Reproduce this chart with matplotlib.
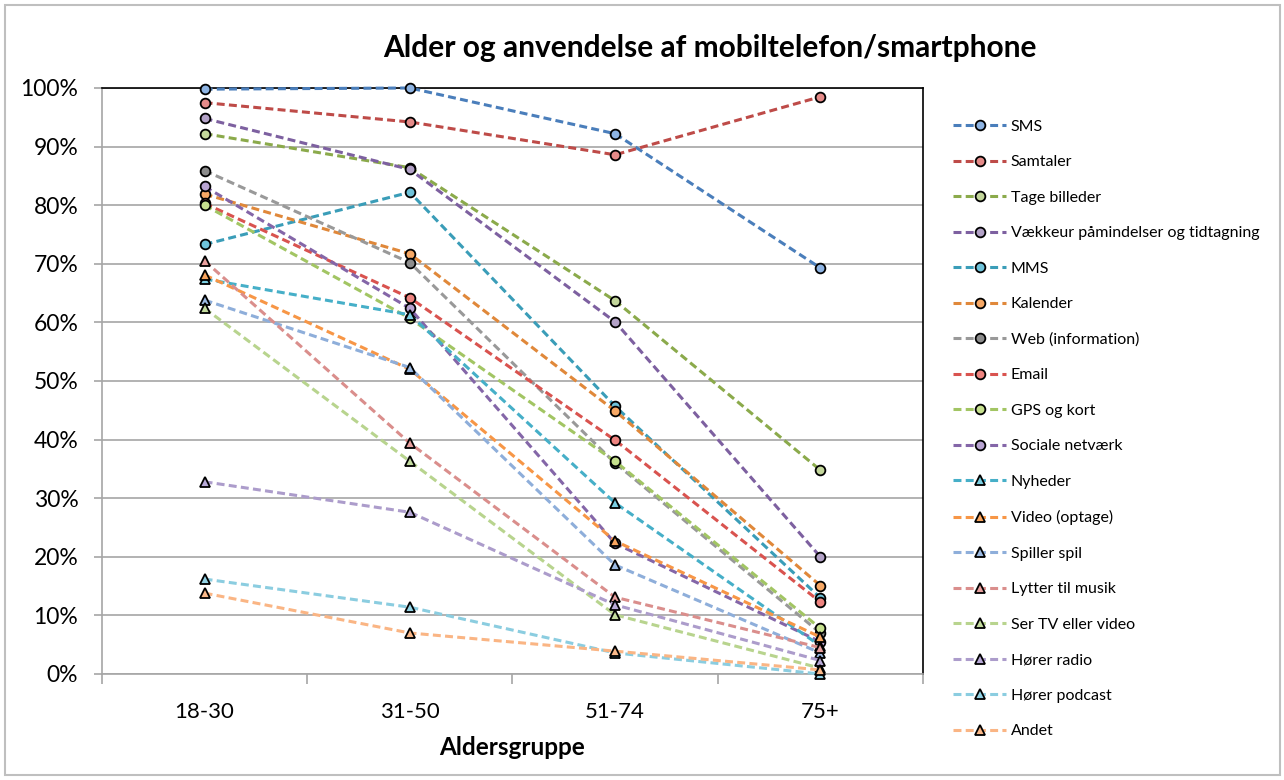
import matplotlib.pyplot as plt
from matplotlib.patches import Rectangle
from matplotlib.ticker import FixedLocator, FuncFormatter

plt.rcParams['font.family'] = ['Lato', 'DejaVu Sans']

# Age groups on the x axis
age_groups = ['18-30', '31-50', '51-74', '75+']

# Share of respondents (%) per activity, one list per series
sms = [99.8, 100.0, 92.2, 69.3]
samtaler = [97.5, 94.2, 88.6, 98.5]
tage_billeder = [92.2, 86.4, 63.7, 34.8]
vaekkeur = [94.8, 86.1, 60.1, 20.0]
mms = [73.3, 82.2, 45.7, 13.0]
kalender = [81.9, 71.7, 44.9, 15.1]
web = [85.9, 70.2, 36.0, 7.0]
email = [80.3, 64.2, 39.9, 12.3]
gps = [80.0, 60.7, 36.3, 7.8]
sociale = [83.2, 62.4, 22.3, 5.5]
nyheder = [67.4, 61.3, 29.2, 4.8]
video = [68.1, 52.0, 22.7, 6.3]
spiller = [63.8, 52.3, 18.6, 3.6]
lytter = [70.5, 39.4, 13.1, 4.5]
ser_tv = [62.4, 36.3, 10.1, 1.0]
radio = [32.8, 27.6, 11.8, 2.3]
podcast = [16.2, 11.4, 3.6, 0.0]
andet = [13.8, 7.0, 3.9, 0.7]

# (label, values, line colour, marker face, marker)
series = [
    ('SMS', sms, '#4A7EBB', '#8EB4E3', 'o'),
    ('Samtaler', samtaler, '#BE4B48', '#E58B89', 'o'),
    ('Tage billeder', tage_billeder, '#8BAA4B', '#C3D69B', 'o'),
    ('Vækkeur påmindelser og tidtagning', vaekkeur, '#7D60A0', '#B3A2C7', 'o'),
    ('MMS', mms, '#3A9DB8', '#6FC3DA', 'o'),
    ('Kalender', kalender, '#E0883A', '#F7A865', 'o'),
    ('Web (information)', web, '#999999', '#8C8C8C', 'o'),
    ('Email', email, '#D9534F', '#EE8480', 'o'),
    ('GPS og kort', gps, '#A2C563', '#C6E08E', 'o'),
    ('Sociale netværk', sociale, '#8466A8', '#B8A4D2', 'o'),
    ('Nyheder', nyheder, '#46AFC8', '#7CD0E3', '^'),
    ('Video (optage)', video, '#F79646', '#F9A55E', '^'),
    ('Spiller spil', spiller, '#8EAEDA', '#9DBBE3', '^'),
    ('Lytter til musik', lytter, '#DA8E8C', '#E8A09E', '^'),
    ('Ser TV eller video', ser_tv, '#B8D48E', '#C5DDA0', '^'),
    ('Hører radio', radio, '#AC9CCB', '#B9AAD8', '^'),
    ('Hører podcast', podcast, '#8BCDE0', '#93D3E5', '^'),
    ('Andet', andet, '#FAB584', '#FBB98A', '^'),
]

fig = plt.figure(figsize=(12.84, 7.80), dpi=100)
ax = fig.add_axes([0.0794, 0.1359, 0.6394, 0.7513])

x = list(range(len(age_groups)))
for i, (label, vals, lc, fc, mk) in enumerate(series):
    ax.plot(x, vals, color=lc, lw=2.2, dashes=(2.6, 1.4), marker=mk,
            markersize=7 if mk == 'o' else 6.5, markerfacecolor=fc,
            markeredgecolor='black', markeredgewidth=1.3, label=label,
            zorder=3 + i * 0.01, clip_on=False)

ax.set_xlim(-0.5, 3.5)
ax.set_ylim(0, 100)

# y axis: percent labels, gridlines
ax.yaxis.set_major_locator(FixedLocator(range(0, 101, 10)))
ax.yaxis.set_major_formatter(FuncFormatter(lambda v, p: f'{int(v)}%'))
ax.grid(axis='y', color='#A6A6A6', lw=1.2, zorder=0)
ax.tick_params(axis='y', direction='out', length=6, width=1.2, color='#A6A6A6',
               labelsize=16.5, pad=11)

# x axis: category labels, ticks between categories
ax.set_xticks(x)
ax.set_xticklabels(age_groups)
ax.set_xticks([-0.5, 0.5, 1.5, 2.5, 3.5], minor=True)
ax.tick_params(axis='x', which='major', length=0, labelsize=16, pad=20)
ax.tick_params(axis='x', which='minor', direction='out', length=7, width=1.2,
               color='#A6A6A6')

for side in ('left', 'bottom'):
    ax.spines[side].set_color('#A6A6A6')
    ax.spines[side].set_linewidth(1.2)
for side in ('top', 'right'):
    ax.spines[side].set_color('black')
    ax.spines[side].set_linewidth(1.2)

ax.set_xlabel('Aldersgruppe', fontsize=17.5, fontweight='bold', labelpad=10)

fig.text(0.553, 0.938, 'Alder og anvendelse af mobiltelefon/smartphone',
         ha='center', va='center', fontsize=21.5, fontweight='bold')

leg = ax.legend(loc='upper left', bbox_to_anchor=(0.7375, 0.855),
                bbox_transform=fig.transFigure, frameon=False, fontsize=11.5,
                handlelength=3.3, handletextpad=0.3, labelspacing=1.335,
                numpoints=1, borderaxespad=0)

# light grey frame around the whole chart
fig.patches.append(Rectangle((0.004, 0.006), 0.993, 0.988, transform=fig.transFigure,
                             fill=False, edgecolor='#BFBFBF', lw=1.5))

fig.savefig('out.png', dpi=100)
